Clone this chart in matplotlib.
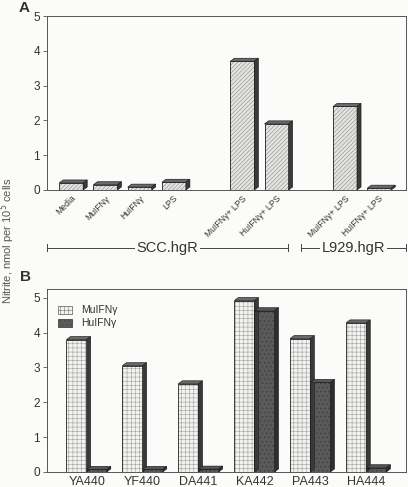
import numpy as np
import matplotlib.pyplot as plt
from matplotlib.patches import Polygon, Patch

plt.rcParams['font.family'] = ['Liberation Sans', 'DejaVu Sans']
plt.rcParams['hatch.linewidth'] = 0.4

# Painel A: nitrito por tratamento
a_labels = ['Media', 'MuIFNγ', 'HuIFNγ', 'LPS',
            'MuIFNγ+ LPS', 'HuIFNγ+ LPS', 'MuIFNγ+ LPS', 'HuIFNγ+ LPS']
a_values = [0.20, 0.15, 0.08, 0.22, 3.70, 1.90, 2.40, 0.05]
a_groups = ['SCC.hgR'] * 6 + ['L929.hgR'] * 2

# Painel B: linhagens celulares
b_cells = ['YA440', 'YF440', 'DA441', 'KA442', 'PA443', 'HA444']
b_mu = [3.80, 3.05, 2.53, 4.92, 3.83, 4.28]
b_hu = [0.07, 0.07, 0.08, 4.63, 2.57, 0.12]

BG = '#fbfbf9'
TXT = '#333333'


def bar3d(ax, x, h, w, face, hatch, hcol, side, top, dxp=4, dyp=3):
    # deslocamento em pixels -> unidades de dados
    p0 = ax.transData.transform((0, 0))
    dx, dy = ax.transData.inverted().transform(p0 + np.array([dxp, dyp]))
    x0, x1 = x - w / 2, x + w / 2
    ax.bar(x, h, w, color=face, edgecolor=hcol, hatch=hatch, linewidth=0, zorder=2)
    ax.bar(x, h, w, fill=False, edgecolor='#222222', linewidth=0.6, zorder=3)
    ax.add_patch(Polygon([(x0, h), (x1, h), (x1 + dx, h + dy), (x0 + dx, h + dy)],
                         closed=True, facecolor=top, edgecolor='#222222', lw=0.5, zorder=3))
    ax.add_patch(Polygon([(x1, 0), (x1 + dx, dy), (x1 + dx, h + dy), (x1, h)],
                         closed=True, facecolor=side, edgecolor='#222222', lw=0.5, zorder=3))


fig = plt.figure(figsize=(4.08, 4.87), dpi=100, facecolor=BG)
axA = fig.add_axes([0.115, 0.610, 0.880, 0.357])
axB = fig.add_axes([0.115, 0.031, 0.880, 0.376])

for ax in (axA, axB):
    ax.set_facecolor(BG)
    for s in ax.spines.values():
        s.set_color('#555555')
        s.set_linewidth(0.7)
    ax.tick_params(axis='y', direction='out', length=3, width=0.6,
                   labelsize=8.5, labelcolor=TXT, color='#555555', pad=2)
    ax.tick_params(axis='x', length=0)

# ---- A ----
# espaço extra quando muda o tipo de estímulo ou a linhagem
combo = ['+' in s for s in a_labels]
gaps = np.cumsum([0] + [1 if (combo[i] != combo[i - 1] or a_groups[i] != a_groups[i - 1]) else 0
                        for i in range(1, len(a_labels))])
posA = np.arange(len(a_labels)) + gaps
axA.set_xlim(-0.71, posA[-1] + 0.78)
axA.set_ylim(0, 5)
axA.set_yticks(range(6))
for x, v in zip(posA, a_values):
    bar3d(axA, x, v, 0.70, '#e4e4e2', '////////', '#8a8a8a', '#3a3a3a', '#6a6a6a')
axA.set_xticks(posA + 0.08)
axA.set_xticklabels(a_labels, rotation=45, ha='right', va='center',
                    rotation_mode='anchor', fontsize=6.2, color=TXT)
axA.tick_params(axis='x', pad=5)

# chaves com nomes das linhagens
xt = axA.get_xaxis_transform()
yb = -0.333
brackets = [('SCC.hgR', -0.71, posA[5] + 0.34), ('L929.hgR', posA[6] - 1.28, posA[-1] + 0.78)]
for name, xa, xb in brackets:
    axA.plot([xa, xb], [yb, yb], color='#444444', lw=0.7, transform=xt, clip_on=False, zorder=2)
    for xe in (xa, xb):
        axA.plot([xe, xe], [yb - 0.02, yb + 0.02], color='#444444', lw=0.7,
                 transform=xt, clip_on=False, zorder=2)
    axA.text((xa + xb) / 2, yb, name, transform=xt, ha='center', va='center',
             fontsize=10.5, color=TXT, zorder=4,
             bbox=dict(facecolor=BG, edgecolor='none', pad=1.5))

# ---- B ----
posB = np.arange(len(b_cells))
w = 0.36
axB.set_xlim(-0.71, posB[-1] + 0.71)
axB.set_ylim(0, 5.26)
axB.set_yticks(range(6))
for x, m, h in zip(posB, b_mu, b_hu):
    bar3d(axB, x - w / 2, m, w, '#f2f2f0', '++++', '#a0a0a0', '#3a3a3a', '#6a6a6a')
    bar3d(axB, x + w / 2, h, w, '#5a5a5a', '....', '#3a3a3a', '#2e2e2e', '#555555')
axB.set_xticks(posB)
axB.set_xticklabels(b_cells, fontsize=9, color=TXT)
axB.tick_params(axis='x', pad=3)

handles = [Patch(facecolor='#f2f2f0', edgecolor='#777777', hatch='++++', lw=0.6),
           Patch(facecolor='#5a5a5a', edgecolor='#444444', hatch='....', lw=0.6)]
axB.legend(handles, ['MuIFNγ', 'HuIFNγ'], loc='upper left', frameon=False,
           fontsize=7.5, handlelength=1.4, handleheight=0.8, borderaxespad=0.3,
           labelspacing=0.3, labelcolor=TXT, bbox_to_anchor=(0.01, 0.95))

fig.text(0.045, 0.983, 'A', fontsize=11, fontweight='bold', color=TXT, va='center')
fig.text(0.05, 0.431, 'B', fontsize=11, fontweight='bold', color=TXT, va='center')
fig.text(0.02, 0.505, 'Nitrite, nmol per 10$^5$ cells', rotation=90,
         fontsize=8, color='#555555', ha='center', va='center')

fig.savefig('out.png', dpi=100, facecolor=BG)
